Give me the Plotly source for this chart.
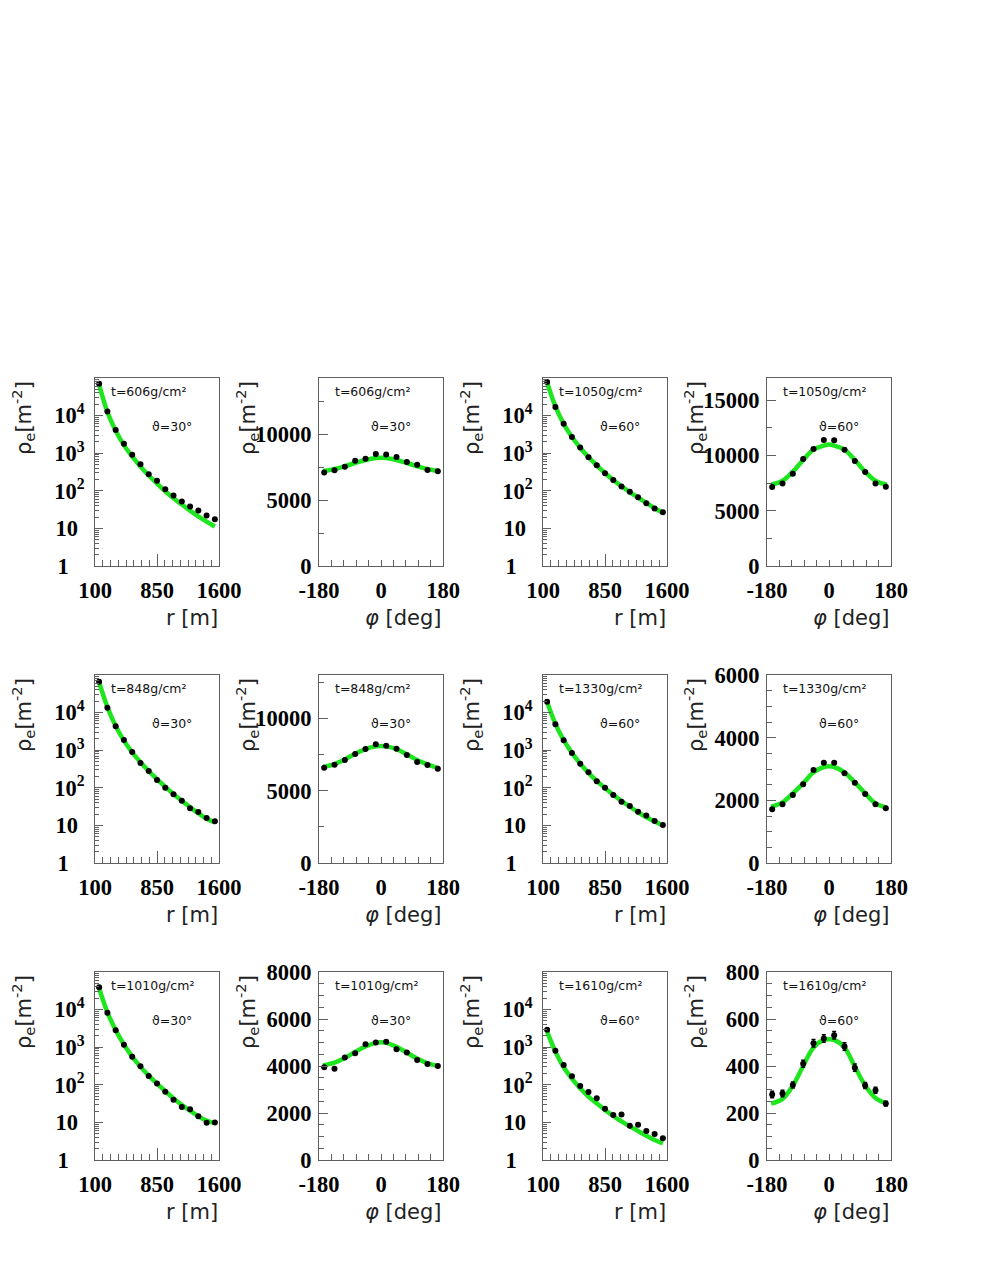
import plotly.graph_objects as go

# ---------------- data ----------------
R_POS = [150, 250, 350, 450, 550, 650, 750, 850, 950, 1050, 1150, 1250, 1350, 1450, 1550]
PHI_POS = [-165, -135, -105, -75, -45, -15, 15, 45, 75, 105, 135, 165]
FIT_PHI = [-168, -135, -105, -75, -45, -15, 0, 15, 45, 75, 105, 135, 168]

R_TICKS = [100, 850, 1600]
R_TICK_TEXT = ["100", "850", "1600"]
PHI_TICKS = [-180, 0, 180]
PHI_TICK_TEXT = ["-180", "0", "180"]
LOG_TICKS = [1, 10, 100, 1000, 10000]
LOG_TICK_TEXT = ["1\u2002\u2009", "10\u2009\u200a", "10<sup>2</sup>", "10<sup>3</sup>", "10<sup>4</sup>"]

DEPTHS = ["606", "606", "1050", "1050",
          "848", "848", "1330", "1330",
          "1010", "1010", "1610", "1610"]
ZENITH = ["30", "30", "60", "60",
          "30", "30", "60", "60",
          "30", "30", "60", "60"]

# lateral (r) distributions
RHO_R_T606 = [70800, 12900, 4120, 1780, 906, 511, 277, 184, 110, 74.8, 51.8, 38.1, 29.8, 21.9, 17.5]
FIT_R_T606 = [66400, 12400, 3950, 1640, 819, 443, 255, 156, 97.5, 63.5, 43.1, 29.8, 21.0, 15.2, 11.2]
RHO_R_T1050 = [78200, 16900, 6070, 2680, 1420, 785, 481, 294, 195, 130, 93.8, 67.5, 46.8, 33.7, 26.9]
FIT_R_T1050 = [76000, 17500, 6000, 2700, 1400, 790, 475, 298, 195, 132, 92, 66, 47.5, 34.5, 26.5]
RHO_R_T848 = [66500, 13500, 4310, 1870, 896, 457, 280, 161, 101, 67, 45.5, 28.4, 22.7, 15.7, 12.8]
FIT_R_T848 = [64000, 14000, 4400, 1800, 880, 480, 280, 170, 106, 68, 45, 30.5, 21, 15, 12.0]
RHO_R_T1330 = [19500, 4880, 1830, 843, 438, 258, 149, 101, 64.4, 42.8, 32.8, 23.2, 18.2, 13.1, 10.3]
FIT_R_T1330 = [19000, 5000, 1850, 850, 440, 250, 152, 98, 65, 44.5, 31.5, 22.5, 16.5, 12.8, 10.0]
RHO_R_T1010 = [39100, 8280, 2810, 1170, 560, 310, 171, 109, 65.6, 40.2, 25.7, 22.3, 14.5, 9.8, 10.0]
FIT_R_T1010 = [37000, 8500, 2850, 1180, 560, 300, 175, 107, 68, 43.5, 29, 20.5, 14.5, 11.2, 9.6]
RHO_R_T1610 = [2930, 809, 336, 168, 92.9, 64.4, 43.6, 23.2, 15.7, 16.1, 8.18, 8.71, 5.91, 4.91, 3.77]
FIT_R_T1610 = [2590, 761, 292, 146, 80.5, 48.3, 32.1, 21.4, 14.8, 10.7, 7.86, 5.91, 4.44, 3.40, 2.77]

# azimuthal (phi) distributions
RHO_PHI_T606 = [7103, 7280, 7557, 8010, 8161, 8514, 8489, 8300, 7909, 7708, 7305, 7204]
FIT_PHI_T606 = [7229, 7380, 7582, 7834, 8060, 8212, 8230, 8212, 8060, 7834, 7582, 7380, 7229]
RHO_PHI_T1050 = [7136, 7469, 8346, 9676, 10584, 11400, 11370, 10523, 9495, 8497, 7469, 7167]
FIT_PHI_T1050 = [7348, 7711, 8527, 9586, 10523, 10886, 10977, 10886, 10523, 9586, 8527, 7711, 7348]
RHO_PHI_T848 = [6590, 6797, 7120, 7535, 7880, 8203, 8111, 7903, 7465, 6982, 6774, 6521]
FIT_PHI_T848 = [6636, 6843, 7166, 7558, 7880, 8065, 8088, 8065, 7880, 7512, 7120, 6820, 6544]
RHO_PHI_T1330 = [1713, 1872, 2170, 2511, 2968, 3202, 3202, 2862, 2564, 2202, 1872, 1745]
FIT_PHI_T1330 = [1798, 1936, 2223, 2543, 2894, 3064, 3085, 3064, 2894, 2574, 2223, 1904, 1766]
RHO_PHI_T1010 = [3950, 3880, 4357, 4543, 4929, 5000, 5029, 4714, 4571, 4257, 4086, 4000]
FIT_PHI_T1010 = [4029, 4143, 4343, 4600, 4829, 4986, 5014, 4986, 4814, 4571, 4314, 4114, 4000]
RHO_PHI_T1610 = [279, 283, 319, 410, 497, 517, 531, 483, 393, 317, 297, 240]
ERR_PHI_T1610 = [14, 14, 13, 15, 16, 16, 16, 16, 15, 13, 13, 10]
FIT_PHI_T1610 = [240, 260, 317, 400, 479, 511, 514, 511, 479, 397, 317, 264, 240]

# panel table (row-major), built from the arrays above
PANELS = [
    ("r", RHO_R_T606, FIT_R_T606, None, None),
    ("phi", RHO_PHI_T606, FIT_PHI_T606, None, (0, 14300, 5000, 2500)),
    ("r", RHO_R_T1050, FIT_R_T1050, None, None),
    ("phi", RHO_PHI_T1050, FIT_PHI_T1050, None, (0, 17000, 5000, 2500)),
    ("r", RHO_R_T848, FIT_R_T848, None, None),
    ("phi", RHO_PHI_T848, FIT_PHI_T848, None, (0, 13000, 5000, 2500)),
    ("r", RHO_R_T1330, FIT_R_T1330, None, None),
    ("phi", RHO_PHI_T1330, FIT_PHI_T1330, None, (0, 6000, 2000, 500)),
    ("r", RHO_R_T1010, FIT_R_T1010, None, None),
    ("phi", RHO_PHI_T1010, FIT_PHI_T1010, None, (0, 8000, 2000, 500)),
    ("r", RHO_R_T1610, FIT_R_T1610, None, None),
    ("phi", RHO_PHI_T1610, FIT_PHI_T1610, ERR_PHI_T1610, (0, 800, 200, 50)),
]

# ---------------- layout geometry (pixels) ----------------
W, H = 981, 1269
COL_LEFT = [95, 319, 543, 767]
ROW_TOP = [378, 675, 972]
PW, PH = 124, 188

FRAME = "#606060"
GREEN = "#1ee61e"
TICK_FONT = dict(family="Liberation Serif", size=22.5, color="black", weight="bold")
TITLE_FONT = dict(family="DejaVu Sans", size=21, color="#222")
LABEL_FONT = dict(family="DejaVu Sans", size=12.5, color="#111")

LOG_MINOR = [m * 10 ** e for e in range(0, 5) for m in range(2, 10)]
R_MINOR_STEP = 93.75
PHI_MINOR = [-144, -108, -72, -36, 0, 36, 72, 108, 144]
PHI_LONG = [-36, 108]


def px_x(x):
    return x / W


def px_y(y):
    return 1 - y / H


fig = go.Figure()
layout = {}
annotations = []
n_panels = len(PANELS)

for i, (kind, rho, fit, err, yspec) in enumerate(PANELS):
    row, col = divmod(i, 4)
    n = i + 1
    sfx = "" if n == 1 else str(n)
    left = COL_LEFT[col]
    top = ROW_TOP[row]
    bottom = top + PH
    xdom = [px_x(left), px_x(left + PW)]
    ydom = [px_y(bottom), px_y(top)]

    xs = R_POS if kind == "r" else PHI_POS
    fx = R_POS if kind == "r" else FIT_PHI

    fig.add_trace(go.Scatter(x=fx, y=fit, mode="lines", line=dict(color=GREEN, width=4.5, shape="spline"),
                             xaxis="x" + sfx, yaxis="y" + sfx, showlegend=False, hoverinfo="skip"))
    fig.add_trace(go.Scatter(x=xs, y=rho, mode="markers",
                             marker=dict(color="black", size=6),
                             error_y=(dict(type="data", array=err, color="black", thickness=1.5, width=2)
                                      if err else None),
                             xaxis="x" + sfx, yaxis="y" + sfx, showlegend=False))

    base = dict(showline=True, mirror=True, linecolor=FRAME, linewidth=1, automargin=False,
                ticks="inside", tickcolor=FRAME, tickwidth=1, showgrid=False, zeroline=False,
                tickfont=TICK_FONT)

    if kind == "r":
        xa = dict(base, domain=xdom, anchor="y" + sfx, range=[100, 1600], tickmode="array",
                  tickvals=R_TICKS, ticktext=R_TICK_TEXT, ticklen=12, ticklabelstandoff=4,
                  minor=dict(ticks="inside", ticklen=6, tick0=100, dtick=R_MINOR_STEP, tickcolor=FRAME,
                             showgrid=False))
        ya = dict(base, domain=ydom, anchor="x" + sfx, type="log", range=[0, 5], tickmode="array",
                  tickvals=LOG_TICKS, ticktext=LOG_TICK_TEXT, ticklen=8, ticklabelstandoff=5,
                  minor=dict(ticks="inside", ticklen=4, tickmode="array", tickvals=LOG_MINOR,
                             tickcolor=FRAME, showgrid=False))
        xtitle = "r [m]"
    else:
        y0, y1, dt, mdt = yspec
        xa = dict(base, domain=xdom, anchor="y" + sfx, range=[-180, 180], tickmode="array",
                  tickvals=PHI_TICKS, ticktext=PHI_TICK_TEXT, ticklen=0, ticklabelstandoff=4,
                  minor=dict(ticks="inside", ticklen=6, tickmode="array", tickvals=PHI_MINOR,
                             tickcolor=FRAME, showgrid=False))
        ya = dict(base, domain=ydom, anchor="x" + sfx, range=[y0, y1], tickmode="linear",
                  tick0=0, dtick=dt, ticklen=9, ticklabelstandoff=2, tickformat="d",
                  minor=dict(ticks="inside", ticklen=5, tick0=0, dtick=mdt, tickcolor=FRAME,
                             showgrid=False))
        xtitle = "<i>φ</i> [deg]"
        # overlay axis carrying the long ticks
        on = n_panels + n
        layout["xaxis%d" % on] = dict(overlaying="x" + sfx, anchor="y" + sfx, range=[-180, 180],
                                      tickmode="array", tickvals=PHI_LONG, ticks="inside", ticklen=12,
                                      tickcolor=FRAME, showticklabels=False, showline=False,
                                      showgrid=False, zeroline=False, side="bottom", automargin=False)

    layout["xaxis" + sfx] = xa
    layout["yaxis" + sfx] = ya

    # axis titles
    annotations.append(dict(text="ρ<sub>e</sub>[m<sup>-2</sup>]", textangle=-90, xref="paper", yref="paper",
                            x=px_x(left - 72), y=px_y(top + 1), xanchor="center", yanchor="top",
                            showarrow=False, font=TITLE_FONT))
    annotations.append(dict(text=xtitle, xref="paper", yref="paper", x=px_x(left + PW + 1),
                            y=px_y(bottom + 52), xanchor="right", yanchor="middle",
                            showarrow=False, font=TITLE_FONT))
    # in-panel labels
    annotations.append(dict(text="t=%sg/cm²" % DEPTHS[i], xref="paper", yref="paper",
                            x=px_x(left + 13.5), y=px_y(top + 13), xanchor="left", yanchor="middle",
                            showarrow=False, font=LABEL_FONT))
    vx = 77 if col in (0, 2) else 72
    annotations.append(dict(text="ϑ=%s°" % ZENITH[i], xref="paper", yref="paper",
                            x=px_x(left + vx), y=px_y(top + 48), xanchor="center", yanchor="middle",
                            showarrow=False, font=LABEL_FONT))

fig.update_layout(template="none", width=W, height=H, autosize=False, margin=dict(l=0, r=0, t=0, b=0, pad=0),
                  paper_bgcolor="white", plot_bgcolor="white", showlegend=False,
                  annotations=annotations, **layout)

fig.write_html("out.html", config={"displayModeBar": False},
               post_script="document.body.style.margin='0px';")
